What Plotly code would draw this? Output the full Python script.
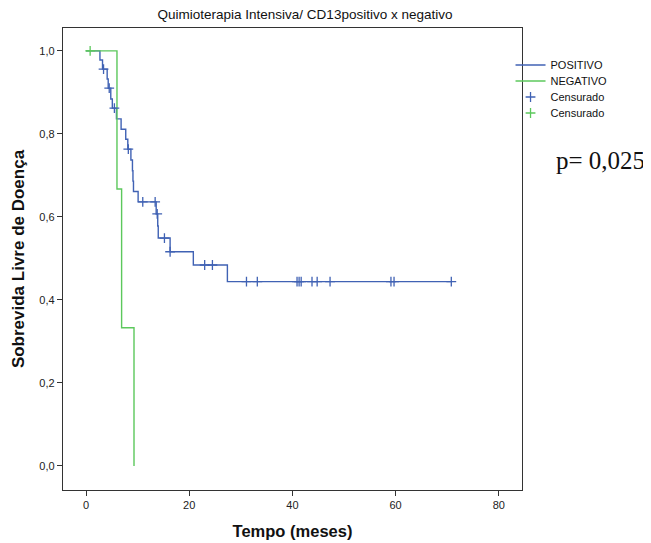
import numpy as np
import plotly.graph_objects as go

# Data
pos_event_times = [0, 2.7, 3.2, 4.1, 4.3, 4.8, 5.1, 5.9, 6.8, 7.7, 8.1, 8.7, 9.0, 9.1, 9.2,
                   10.1, 13.6, 13.9, 14.0, 16.3, 20.8, 27.4]
pos_event_surv = [1.0, 0.978, 0.956, 0.932, 0.910, 0.884, 0.862, 0.836, 0.811, 0.787, 0.763,
                  0.737, 0.711, 0.686, 0.661, 0.636, 0.607, 0.578, 0.549, 0.516, 0.484, 0.444]
pos_last_time = 70.8
pos_censor_times = [3.4, 4.5, 5.5, 8.2, 11.0, 13.4, 13.8, 15.2, 16.3, 23.0, 24.5, 31.1, 33.2,
                    40.9, 41.3, 41.7, 43.8, 44.8, 47.3, 59.1, 59.7, 70.8]

neg_event_times = [0, 6.0, 6.9, 9.3]
neg_event_surv = [1.0, 0.667, 0.333, 0.0]
neg_censor_times = [0.8]

x_ticks = [0, 20, 40, 60, 80]
y_ticks = [0.0, 0.2, 0.4, 0.6, 0.8, 1.0]

BLUE = "#4062b4"
GREEN = "#5cc85c"
SANS = "Liberation Sans, Arial"


def step_value(times, surv, t):
    idx = np.searchsorted(np.array(times), t, side="right") - 1
    return float(np.array(surv)[idx])


pos_x = list(pos_event_times) + [pos_last_time]
pos_y = list(pos_event_surv) + [pos_event_surv[-1]]
pos_cy = [step_value(pos_event_times, pos_event_surv, t) for t in pos_censor_times]
neg_cy = [step_value(neg_event_times, neg_event_surv, t) for t in neg_censor_times]

fig = go.Figure()
fig.add_trace(go.Scatter(x=pos_x, y=pos_y, mode="lines", line=dict(color=BLUE, width=1.4, shape="hv"),
                         name="POSITIVO", legend="legend"))
fig.add_trace(go.Scatter(x=neg_event_times, y=neg_event_surv, mode="lines",
                         line=dict(color=GREEN, width=1.4, shape="hv"), name="NEGATIVO",
                         legend="legend2"))
fig.add_trace(go.Scatter(x=pos_censor_times, y=pos_cy, mode="markers",
                         marker=dict(symbol="cross-thin", size=7, line=dict(color=BLUE, width=1.3)),
                         name="Censurado", legend="legend3"))
fig.add_trace(go.Scatter(x=neg_censor_times, y=neg_cy, mode="markers",
                         marker=dict(symbol="cross-thin", size=7, line=dict(color=GREEN, width=1.3)),
                         name="Censurado", legend="legend4"))

axis_common = dict(showgrid=False, zeroline=False, showline=True, mirror=True, automargin=False,
                   linecolor="#333333", linewidth=1.3, ticks="outside", ticklen=5,
                   tickcolor="#333333", tickfont=dict(family=SANS, size=11, color="#222"))

# The page body adds an 8px offset; plot area on screen: left 63, right 522, top 28, bottom 490.
W, H = 643, 535
L, T = 55, 20
PW, PH = 459, 462


def ly(px):
    # screen y (px) -> paper y
    return 1 - (px - 28) / float(PH)


def lx(px):
    return (px - 63) / float(PW)


leg_common = dict(x=0.975, xanchor="left", yanchor="middle", bgcolor="rgba(0,0,0,0)",
                  font=dict(family=SANS, size=11, color="#111"), itemwidth=30,
                  borderwidth=0, tracegroupgap=0)

fig.update_layout(
    width=W, height=H,
    margin=dict(l=L, r=W - L - PW, t=T, b=H - T - PH, autoexpand=False),
    paper_bgcolor="white", plot_bgcolor="white",
    separators=",.",
    title=dict(text="Quimioterapia Intensiva/ CD13positivo x negativo", x=(305 - 8) / W, xanchor="center",
               y=1 - (10 - 8) / H, yanchor="top", yref="container",
               font=dict(family=SANS, size=13.5, color="#111")),
    xaxis=dict(range=[-4.46, 84.5], tickvals=x_ticks,
               title=dict(text="<b>Tempo (meses)</b>", standoff=15,
                          font=dict(family=SANS, size=16.5, color="#111")),
               **axis_common),
    yaxis=dict(range=[-0.058, 1.055], tickvals=y_ticks, tickformat=".1f",
               title=dict(text="<b>Sobrevida Livre de Doença</b>", standoff=10,
                          font=dict(family=SANS, size=17, color="#111")),
               **axis_common),
    legend=dict(y=ly(65), **leg_common),
    legend2=dict(y=ly(81), **leg_common),
    legend3=dict(y=ly(97), **leg_common),
    legend4=dict(y=ly(113), **leg_common),
    showlegend=True,
    annotations=[dict(text="p= 0,025", xref="paper", yref="paper", x=lx(554), y=ly(161),
                      xanchor="left", yanchor="middle", showarrow=False,
                      font=dict(family="Liberation Serif, Times New Roman", size=25, color="#111"))],
)

fig.write_html("out.html")
